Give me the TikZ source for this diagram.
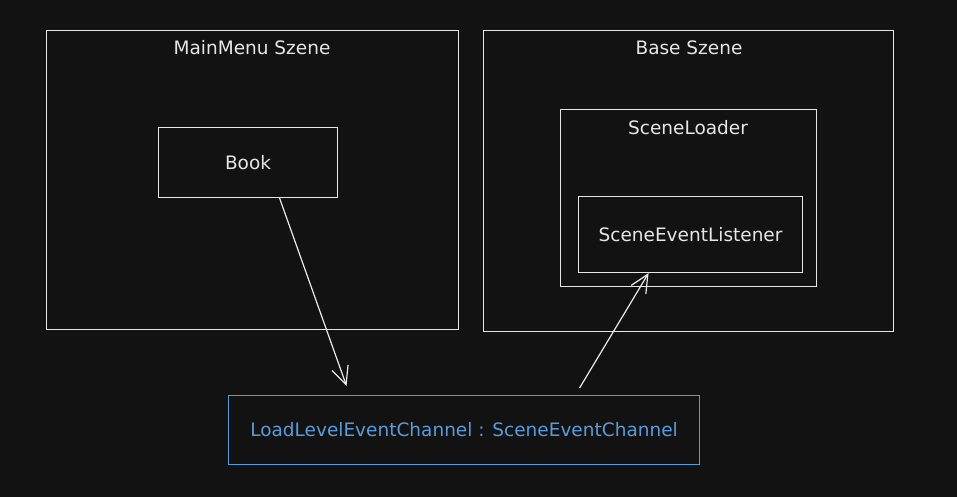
\documentclass[tikz,border=0pt]{standalone}
\usepackage{fontspec}
\setmainfont{DejaVu Sans}
\usetikzlibrary{arrows.meta}
\definecolor{bg}{HTML}{121212}
\definecolor{ink}{HTML}{E6E6E6}
\definecolor{blu}{HTML}{5A9BDA}
\tikzset{
  box/.style={draw=ink, line width=1.1pt, rectangle, inner sep=0pt, anchor=north west},
  bluebox/.style={draw=blu, line width=1.1pt, rectangle, inner sep=0pt, anchor=north west},
  lbl/.style={text=ink, font=\fontsize{18.5}{20}\selectfont, inner sep=0pt},
  blbl/.style={text=blu, font=\fontsize{18.5}{20}\selectfont, inner sep=0pt},
  arr/.style={draw=ink!85, line width=1.2pt, -{Straight Barb[length=18pt,width=17pt,line width=1.2pt]}}
}
\begin{document}
\begin{tikzpicture}[x=1pt,y=-1pt]
\fill[bg] (0,0) rectangle (957,497);
\useasboundingbox (0,0) rectangle (957,497);
% main menu scene
\node[box, minimum width=412pt, minimum height=299pt] (mm) at (46,30) {};
\node[lbl] (mmt) at (252,48) {MainMenu Szene};
\node[box, minimum width=179pt, minimum height=70pt] (book) at (158,127) {};
\node[lbl] (bookt) at (book.center) {Book};
% base scene
\node[box, minimum width=410pt, minimum height=301pt] (base) at (483,30) {};
\node[lbl] (baset) at (689,48) {Base Szene};
\node[box, minimum width=256pt, minimum height=177pt] (loader) at (560,109) {};
\node[lbl] (loadert) at (688,128) {SceneLoader};
\node[box, minimum width=224pt, minimum height=76pt] (listener) at (578,196) {};
\node[lbl] (listenert) at (listener.center) {SceneEventListener};
% channel
\node[bluebox, minimum width=471pt, minimum height=69pt] (chan) at (228,395) {};
\node[blbl] (chant) at (chan.center) {LoadLevelEventChannel : SceneEventChannel};
% arrows
\draw[arr] ([xshift=31.5pt]book.south) -- ([xshift=-117.5pt,yshift=9pt]chan.north);
\draw[arr] ([xshift=115.5pt,yshift=7pt]chan.north) -- ([xshift=-42pt]listener.south);
\end{tikzpicture}
\end{document}
